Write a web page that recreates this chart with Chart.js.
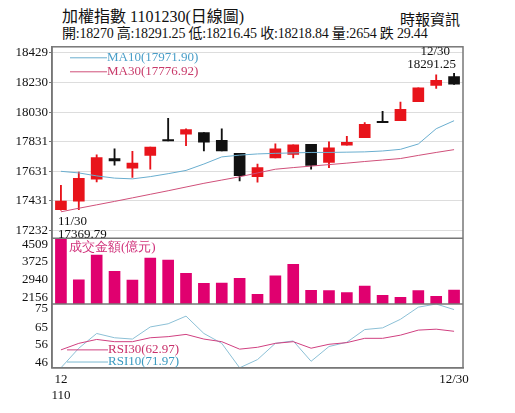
<!DOCTYPE html>
<html><head><meta charset="utf-8">
<script src="https://cdn.jsdelivr.net/npm/chart.js@4"></script>
<style>
body{margin:0;background:#fff;width:515px;height:413px;overflow:hidden;position:relative;font-family:"Liberation Serif","Noto Sans CJK TC",serif;}
#t1{position:absolute;left:62px;top:3px;font-size:16px;color:#111;}
#t2{position:absolute;left:62px;top:22px;font-size:14px;color:#111;letter-spacing:-0.2px}
#t3{position:absolute;left:400px;top:8px;font-size:15px;color:#111;}
#wrap{position:absolute;left:0;top:38px;width:515px;height:365px;}
</style></head><body>
<div id="t1">加權指數 1101230(日線圖)</div>
<div id="t3">時報資訊</div>
<div id="t2">開:18270 高:18291.25 低:18216.45 收:18218.84 量:2654 跌 29.44</div>
<div id="wrap"><canvas id="c"></canvas></div>
<script>
const dates=["11/30","12/1","12/2","12/3","12/6","12/7","12/8","12/9","12/10","12/13","12/14","12/15","12/16","12/17","12/20","12/21","12/22","12/23","12/24","12/27","12/28","12/29","12/30"];
const open_=[17372,17430,17578,17717,17652,17738,17844,17881,17892,17840,17752,17594,17721,17744,17813,17690,17807,17857,17967,17973,18101,18209,18270];
const close_=[17430,17584,17723,17701,17686,17795,17836,17912,17828,17768,17602,17656,17783,17809,17670,17789,17826,17947,17959,18049,18193,18244,18218.84];
const high_=[17537,17625,17742,17783,17766,17795,17988,17918,17892,17918,17752,17680,17816,17809,17813,17830,17867,17959,18035,18097,18193,18281,18291.25];
const low_=[17369.79,17372,17559,17672,17590,17645,17836,17803,17768,17768,17567,17557,17721,17721,17645,17655,17807,17857,17959,17973,18101,18189,18216.45];
const ma10=[17631,17620,17600,17585,17580,17595,17615,17637,17680,17728,17740,17748,17752,17755,17758,17758,17760,17762,17768,17779,17815,17918,17971.9];
const ma30=[17358,17382,17405,17428,17452,17476,17500,17525,17550,17572,17594,17620,17645,17656,17666,17676,17686,17697,17707,17717,17738,17758,17776.92];
const volume=[4771,2935,4023,3302,2920,3890,3802,3214,2773,2788,2994,2288,3111,3611,2465,2450,2362,2656,2244,2156,2450,2200,2479];
const rsi30=[53.0,56.5,58.6,57.4,57.4,59.5,60.1,61.3,58.8,57.4,53.4,54.4,56.5,57.4,53.9,56.0,56.9,59.2,59.2,60.9,63.6,64.1,62.97];
const rsi10=[43.4,53.9,61.8,59.5,58.8,65.3,67.0,71.1,61.8,56.5,43.4,47.8,56.5,57.8,46.9,54.8,57.1,63.9,64.8,69.4,75.9,77.6,74.6];
const priceTicks=[17232,17431,17631,17831,18030,18230,18429];
const volTicks=[2156,2940,3725,4509];
const rsiTicks=[46,56,65,75];

const up=open_.map((o,i)=>close_[i]>=o);
const candleCol=up.map(u=>u?'#e8141b':'#111111');
const bodies=open_.map((o,i)=>{let a=o,b=close_[i];if(Math.abs(a-b)<4){b=a-4;}return [a,b];});
const wicks=low_.map((l,i)=>[l,high_[i]]);
const fontT={family:'"Liberation Serif",serif',size:13};
function fixTicks(vals){return function(ax){ax.ticks=vals.map(v=>({value:v}));};}
function yAx(weight,min,max,vals,grid){return {type:'linear',position:'left',stack:'s',stackWeight:weight,min:min,max:max,
  afterBuildTicks:fixTicks(vals),afterFit:a=>{a.width=52;},
  border:{display:true,color:'#777',width:1.5},
  grid:{display:grid,color:'#ddd',drawTicks:true,tickLength:3,tickColor:'#777'},
  ticks:{color:'#111',font:fontT,padding:1,autoSkip:false,callback:v=>String(v)}};}

const deco={id:'deco',afterDraw(ch){
  const c=ch.ctx,x=ch.scales.x,yP=ch.scales.yP,yV=ch.scales.yV,yR=ch.scales.yR;
  c.save();
  c.strokeStyle='#777';c.lineWidth=1.5;
  c.strokeRect(ch.chartArea.left,ch.chartArea.top,ch.chartArea.right-ch.chartArea.left,ch.chartArea.bottom-ch.chartArea.top);
  c.beginPath();c.moveTo(ch.chartArea.left,yV.top);c.lineTo(ch.chartArea.right,yV.top);
  c.moveTo(ch.chartArea.left,yR.top);c.lineTo(ch.chartArea.right,yR.top);c.stroke();
  c.font='13px "Liberation Serif",serif';c.textBaseline='middle';
  const L=ch.chartArea.left;
  c.strokeStyle='#6aaecf';c.lineWidth=1;c.beginPath();c.moveTo(L+18,yP.top+11);c.lineTo(L+55,yP.top+11);c.stroke();
  c.fillStyle='#4a9ec8';c.fillText('MA10(17971.90)',L+55,yP.top+11);
  c.strokeStyle='#d0507a';c.beginPath();c.moveTo(L+18,yP.top+25);c.lineTo(L+55,yP.top+25);c.stroke();
  c.fillStyle='#c83a6a';c.fillText('MA30(17776.92)',L+55,yP.top+25);
  c.fillStyle='#111';c.textAlign='left';
  c.fillText('11/30',x.getPixelForValue(0)-3,yP.getPixelForValue(17369.79)+12);
  c.fillText('17369.79',x.getPixelForValue(0)-3,yP.getPixelForValue(17369.79)+25);
  c.textAlign='right';
  const xl=x.getPixelForValue(22);
  c.fillText('12/30',xl-4,yP.getPixelForValue(18291.25)-22);
  c.fillText('18291.25',xl+2,yP.getPixelForValue(18291.25)-9);
  c.textAlign='left';c.fillStyle='#d0307a';
  c.fillText('成交金額(億元)',L+17,yV.top+9);
  c.strokeStyle='#d04080';c.beginPath();c.moveTo(L+15,yR.getPixelForValue(53));c.lineTo(L+56,yR.getPixelForValue(53));c.stroke();
  c.fillStyle='#c8306a';c.fillText('RSI30(62.97)',L+56,yR.getPixelForValue(53));
  c.strokeStyle='#7ab8d0';c.beginPath();c.moveTo(L+15,yR.getPixelForValue(46.5));c.lineTo(L+56,yR.getPixelForValue(46.5));c.stroke();
  c.fillStyle='#3a9ac0';c.fillText('RSI10(71.97)',L+56,yR.getPixelForValue(46.5));
  c.restore();
}};

new Chart(document.getElementById('c'),{
  data:{labels:dates,datasets:[
    {type:'bar',data:wicks,yAxisID:'yP',backgroundColor:candleCol,barThickness:1.2,grouped:false,order:3},
    {type:'bar',data:bodies,yAxisID:'yP',backgroundColor:candleCol,barThickness:11,grouped:false,order:2},
    {type:'line',data:ma10,yAxisID:'yP',borderColor:'#6aaecf',borderWidth:1,pointRadius:0,tension:0,order:1},
    {type:'line',data:ma30,yAxisID:'yP',borderColor:'#d0507a',borderWidth:1,pointRadius:0,tension:0,order:1},
    {type:'bar',data:volume,yAxisID:'yV',backgroundColor:'#e0006f',barThickness:11,grouped:false},
    {type:'line',data:rsi30,yAxisID:'yR',borderColor:'#d04080',borderWidth:1,pointRadius:0,tension:0},
    {type:'line',data:rsi10,yAxisID:'yR',borderColor:'#8cc0d6',borderWidth:1,pointRadius:0,tension:0}
  ]},
  options:{responsive:true,maintainAspectRatio:false,animation:false,
    layout:{padding:{left:0,right:52,top:2,bottom:0}},
    plugins:{legend:{display:false},tooltip:{enabled:false}},
    scales:{
      x:{offset:true,grid:{display:false,drawTicks:true,tickLength:4},border:{color:'#777',width:1.5},
        ticks:{color:'#111',font:fontT,autoSkip:false,maxRotation:0,padding:0,
          callback:(v,i)=>i===0?['12','110']:(i===22?'12/30':'')}},
      yR:yAx(65,43.4,77.6,rsiTicks,false),
      yV:yAx(67,1862,4771,volTicks,false),
      yP:yAx(195,17180,18470,priceTicks,true)
    }}, plugins:[deco]});
</script></body></html>
